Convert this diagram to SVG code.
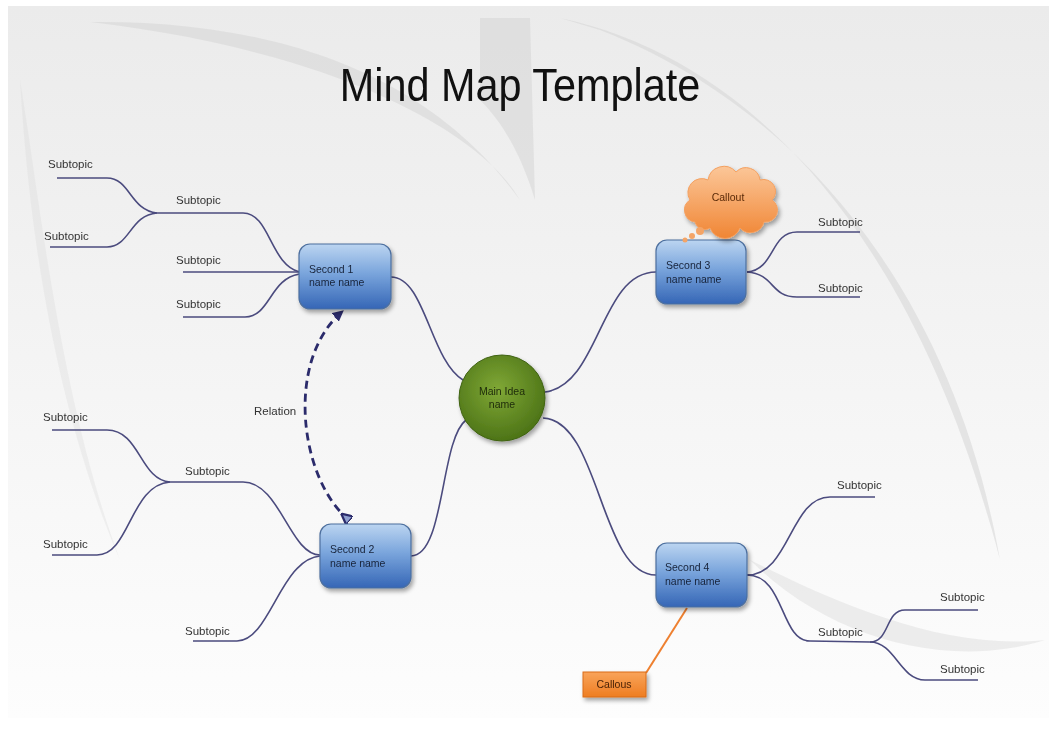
<svg xmlns="http://www.w3.org/2000/svg" width="1049" height="749" viewBox="0 0 1049 749">
<defs>
<style>
.sub{font-family:"Liberation Sans",Arial,sans-serif;font-size:11.5px;fill:#333}
.nt{font-family:"Liberation Sans",Arial,sans-serif;font-size:10.5px;fill:#17233a}
.br{fill:none;stroke:#4b4b7e;stroke-width:1.6}
.box{fill:url(#blue);stroke:#4d6f9e;stroke-width:1.2;filter:url(#sh)}
</style>
<linearGradient id="bg" x1="0" y1="0" x2="0" y2="1">
<stop offset="0" stop-color="#ebebeb"/><stop offset="0.6" stop-color="#f6f6f6"/><stop offset="1" stop-color="#fdfdfd"/>
</linearGradient>
<linearGradient id="blue" x1="0" y1="0" x2="0" y2="1">
<stop offset="0" stop-color="#bcd5f1"/><stop offset="0.45" stop-color="#7aa5dc"/><stop offset="1" stop-color="#3566b6"/>
</linearGradient>
<radialGradient id="green" cx="0.45" cy="0.4" r="0.6">
<stop offset="0" stop-color="#80a836"/><stop offset="1" stop-color="#4d7417"/>
</radialGradient>
<linearGradient id="orange" gradientUnits="userSpaceOnUse" x1="0" y1="168" x2="0" y2="240">
<stop offset="0" stop-color="#fbc596"/><stop offset="1" stop-color="#f08432"/>
</linearGradient>
<linearGradient id="orb" x1="0" y1="0" x2="0" y2="1">
<stop offset="0" stop-color="#f9a45a"/><stop offset="1" stop-color="#ee7d22"/>
</linearGradient>
<filter id="sh" x="-20%" y="-20%" width="150%" height="150%">
<feDropShadow dx="2" dy="3" stdDeviation="2" flood-color="#000" flood-opacity="0.35"/>
</filter>
<marker id="ar" viewBox="0 0 10 10" refX="9" refY="5" markerWidth="4" markerHeight="4" orient="auto">
<path d="M0 0 L10 5 L0 10 z" fill="#2b2b6b"/>
</marker>
<marker id="tri" viewBox="0 0 10 10" refX="1" refY="5" markerWidth="4" markerHeight="4" orient="auto">
<path d="M0 0 L10 5 L0 10 z" fill="#8fa0d0" stroke="#2b2b6b" stroke-width="2"/>
</marker>
</defs>
<rect width="1049" height="749" fill="#ffffff"/>
<rect x="8" y="6" width="1041" height="712" fill="url(#bg)"/>
<g id="background" fill="#d6d6d6" opacity="0.55">
<path d="M90 22 C 250 20 420 60 520 200 C 480 130 330 50 90 22 Z"/>
<path d="M480 18 L530 18 L535 200 C 520 150 500 120 480 100 Z"/>
<path d="M560 18 C 760 60 920 250 1000 560 C 960 330 830 120 600 30 Z"/>
<path d="M20 80 C 40 200 60 400 120 560 C 60 420 30 250 20 80 Z" opacity="0.5"/>
<path d="M750 560 C 850 610 950 650 1045 640 C 950 670 830 640 750 560 Z" opacity="0.7"/>
</g>
<text x="577.8" y="101" text-anchor="middle" transform="scale(0.9,1)" font-family="'Liberation Sans',Arial,sans-serif" font-size="46" fill="#111">Mind Map Template</text>
<g id="connectors">
<path class="br" d="M463 380 C 430 360, 425 277, 391 277"/>
<path class="br" d="M466 420 C 440 440, 445 556, 411 556"/>
<path class="br" d="M545 392 C 600 385, 600 272, 656 272"/>
<path class="br" d="M543 418 C 600 420, 600 575, 656 575"/>
<path class="br" d="M300 272 C 270 265, 270 213, 243 213 L 157 213"/>
<path class="br" d="M157 213 C 130 210, 130 178, 107 178 L 57 178"/>
<path class="br" d="M157 213 C 130 215, 130 247, 107 247 L 50 247"/>
<path class="br" d="M300 272 L 183 272"/>
<path class="br" d="M300 274 C 270 278, 270 317, 245 317 L 183 317"/>
<path class="br" d="M320 555 C 290 555, 280 482, 243 482 L 170 482"/>
<path class="br" d="M170 482 C 140 480, 140 430, 107 430 L 52 430"/>
<path class="br" d="M170 482 C 130 485, 130 555, 97 555 L 52 555"/>
<path class="br" d="M320 556 C 280 560, 270 641, 237 641 L 193 641"/>
<path class="br" d="M747 272 C 775 270, 770 232, 797 232 L 860 232"/>
<path class="br" d="M747 272 C 775 274, 770 297, 797 297 L 860 297"/>
<path class="br" d="M747 575 C 790 575, 790 497, 830 497 L 875 497"/>
<path class="br" d="M747 575 C 785 575, 780 641, 810 641 L 870 642"/>
<path class="br" d="M870 642 C 890 642, 885 610, 905 610 L 978 610"/>
<path class="br" d="M870 642 C 895 642, 900 680, 925 680 L 978 680"/>
<path d="M349 520 C 300 480, 284 360, 343 311" fill="none" stroke="#2b2b6b" stroke-width="2.8" stroke-dasharray="8 5" marker-start="url(#tri)" marker-end="url(#ar)"/>
<path d="M646 673 L 687 608" fill="none" stroke="#ee8030" stroke-width="2"/>
</g>
<g id="subtopics">
<text class="sub" x="48" y="168">Subtopic</text>
<text class="sub" x="44" y="240">Subtopic</text>
<text class="sub" x="176" y="204">Subtopic</text>
<text class="sub" x="176" y="264">Subtopic</text>
<text class="sub" x="176" y="308">Subtopic</text>
<text class="sub" x="43" y="421">Subtopic</text>
<text class="sub" x="185" y="475">Subtopic</text>
<text class="sub" x="43" y="548">Subtopic</text>
<text class="sub" x="185" y="635">Subtopic</text>
<text class="sub" x="818" y="226">Subtopic</text>
<text class="sub" x="818" y="292">Subtopic</text>
<text class="sub" x="837" y="489">Subtopic</text>
<text class="sub" x="818" y="636">Subtopic</text>
<text class="sub" x="940" y="601">Subtopic</text>
<text class="sub" x="940" y="673">Subtopic</text>
<text class="sub" x="254" y="415">Relation</text>
</g>
<g id="second1">
<rect class="box" x="299" y="244" width="92" height="65" rx="11"/>
<text class="nt" x="309" y="273">Second 1</text>
<text class="nt" x="309" y="286">name name</text>
</g>
<g id="second2">
<rect class="box" x="320" y="524" width="91" height="64" rx="11"/>
<text class="nt" x="330" y="553">Second 2</text>
<text class="nt" x="330" y="567">name name</text>
</g>
<g id="second3">
<rect class="box" x="656" y="240" width="90" height="64" rx="11"/>
<text class="nt" x="666" y="269">Second 3</text>
<text class="nt" x="666" y="283">name name</text>
</g>
<g id="second4">
<rect class="box" x="656" y="543" width="91" height="64" rx="11"/>
<text class="nt" x="665" y="571">Second 4</text>
<text class="nt" x="665" y="585">name name</text>
</g>
<g id="main">
<circle cx="502" cy="398" r="43" fill="url(#green)" stroke="#3f6212" stroke-width="1" filter="url(#sh)"/>
<text class="nt" x="502" y="395" text-anchor="middle" style="fill:#1d2a0a">Main Idea</text>
<text class="nt" x="502" y="408" text-anchor="middle" style="fill:#1d2a0a">name</text>
</g>
<g id="callout-cloud">
<path d="M695 222 a 12 12 0 0 1 -5 -22 a 14 14 0 0 1 18 -20 a 16 16 0 0 1 28 -8 a 14 14 0 0 1 24 8 a 12 12 0 0 1 12 20 a 12 12 0 0 1 -8 22 a 14 14 0 0 1 -24 6 a 16 16 0 0 1 -30 0 a 10 10 0 0 1 -15 -6 z" fill="url(#orange)" stroke="#f3a060" stroke-width="1" filter="url(#sh)"/>
<circle cx="700" cy="231" r="4" fill="#f4a466"/>
<circle cx="692" cy="236" r="3" fill="#f4a466"/>
<circle cx="685" cy="240" r="2.5" fill="#f4a466"/>
<text class="nt" x="728" y="201" text-anchor="middle" style="fill:#5a2a08">Callout</text>
</g>
<g id="callous">
<rect x="583" y="672" width="63" height="25" fill="url(#orb)" stroke="#d96d1a" stroke-width="1" filter="url(#sh)"/>
<text class="nt" x="614" y="688" text-anchor="middle" style="fill:#4a2206">Callous</text>
</g>
</svg>
